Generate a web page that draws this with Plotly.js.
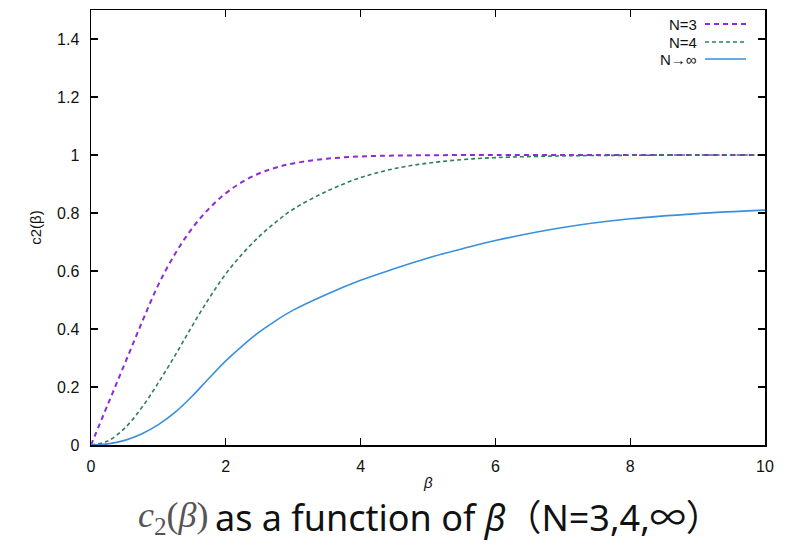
<!DOCTYPE html>
<html>
<head>
<meta charset="utf-8">
<script src="https://cdn.plot.ly/plotly-3.0.1.min.js"></script>
<style>html,body{margin:0;padding:0;background:#fff;} #chart{width:791px;height:545px;}</style>
</head>
<body>
<div id="chart"></div>
<script>
// ---- data ----
const beta = [0, 0.25, 0.5, 0.75, 1, 1.25, 1.5, 1.75, 2, 2.25, 2.5, 2.75, 3, 3.5, 4, 4.5, 5, 5.5, 6, 7, 8, 9, 10];
const cN3  = [0, 0.14, 0.28, 0.42, 0.553, 0.66, 0.747, 0.815, 0.868, 0.908, 0.937, 0.957, 0.971, 0.987, 0.995, 0.998, 0.999, 1, 1, 1, 1, 1, 1];
const cN4  = [0, 0.014, 0.058, 0.128, 0.215, 0.31, 0.41, 0.505, 0.59, 0.66, 0.72, 0.77, 0.813, 0.875, 0.922, 0.953, 0.972, 0.984, 0.991, 0.997, 0.999, 1, 1];
const cInf = [0, 0.004, 0.016, 0.038, 0.07, 0.113, 0.168, 0.23, 0.29, 0.343, 0.39, 0.43, 0.465, 0.52, 0.568, 0.608, 0.645, 0.676, 0.705, 0.75, 0.78, 0.798, 0.81];
const seriesNames = ["N=3", "N=4", "N→∞"];
const xTicks = [0, 2, 4, 6, 8, 10];
const yTicks = [0, 0.2, 0.4, 0.6, 0.8, 1, 1.2, 1.4];

const styles = [
  {color: "#8e2bd6", width: 2, dash: "5px,4px"},
  {color: "#2e7d5b", width: 1.6, dash: "4px,3px"},
  {color: "#3a8fdc", width: 1.6, dash: "solid"}
];
const ys = [cN3, cN4, cInf];

const M = {l: 91, r: 26, t: 10, b: 100};
const W = 791, H = 545;
const pw = W - M.l - M.r, ph = H - M.t - M.b;
const px2x = p => (p - M.l) / pw;
const py2y = p => (H - M.b - p) / ph;

const traces = ys.map((y, i) => ({
  x: beta, y: y, type: "scatter", mode: "lines", name: seriesNames[i],
  line: {color: styles[i].color, width: styles[i].width, dash: styles[i].dash, shape: "spline", smoothing: 1},
  showlegend: false, hoverinfo: "skip"
}));

const legRows = [24, 42, 59];
const annotations = [];
const shapes = [];
seriesNames.forEach((n, i) => {
  annotations.push({xref: "paper", yref: "paper", x: px2x(699), y: py2y(legRows[i]), xanchor: "right", yanchor: "middle",
    text: n, showarrow: false, font: {family: "Liberation Sans, Arial, sans-serif", size: 15, color: "#111"}});
  shapes.push({type: "line", xref: "paper", yref: "paper", x0: px2x(705), x1: px2x(746), y0: py2y(legRows[i]), y1: py2y(legRows[i]),
    line: {color: styles[i].color, width: styles[i].width, dash: styles[i].dash}});
});
// x axis title
annotations.push({xref: "paper", yref: "paper", x: 0.5, y: py2y(482), xanchor: "center", yanchor: "middle",
  text: "<i>β</i>", showarrow: false, font: {family: "Liberation Sans, Arial, sans-serif", size: 15, color: "#111"}});
// caption
annotations.push({xref: "paper", yref: "paper", x: px2x(211), y: py2y(517), xanchor: "right", yanchor: "middle",
  text: "<i>c</i><sub>2</sub>(<i>β</i>)", showarrow: false, font: {family: "Liberation Serif, DejaVu Serif, serif", size: 36, color: "#555"}});
annotations.push({xref: "paper", yref: "paper", x: px2x(213), y: py2y(517), xanchor: "left", yanchor: "middle",
  text: "as a function of <i>β</i>（N=3,4,∞）", showarrow: false, font: {family: "Noto Sans, Noto Sans CJK JP, sans-serif", size: 36, color: "#111"}});

const axisCommon = {
  showgrid: false, zeroline: false, showline: true, linecolor: "#000", linewidth: 1.5, mirror: "ticks",
  ticks: "inside", ticklen: 7, tickwidth: 1.3, tickcolor: "#000",
  tickfont: {family: "Liberation Sans, Arial, sans-serif", size: 16, color: "#111"}
};

const layout = {
  width: W, height: H, margin: M, paper_bgcolor: "#fff", plot_bgcolor: "#fff",
  xaxis: Object.assign({}, axisCommon, {range: [0, 10], tickvals: xTicks, ticktext: xTicks.map(String), ticklabelstandoff: 6}),
  yaxis: Object.assign({}, axisCommon, {range: [0, 1.5], tickvals: yTicks, ticktext: yTicks.map(String), ticklabelstandoff: 7,
    title: {text: "c2(β)", font: {family: "Liberation Sans, Arial, sans-serif", size: 15, color: "#111"}, standoff: 12}}),
  annotations: annotations, shapes: shapes, showlegend: false
};

Plotly.newPlot("chart", traces, layout, {displayModeBar: false, staticPlot: true});
</script>
</body>
</html>
